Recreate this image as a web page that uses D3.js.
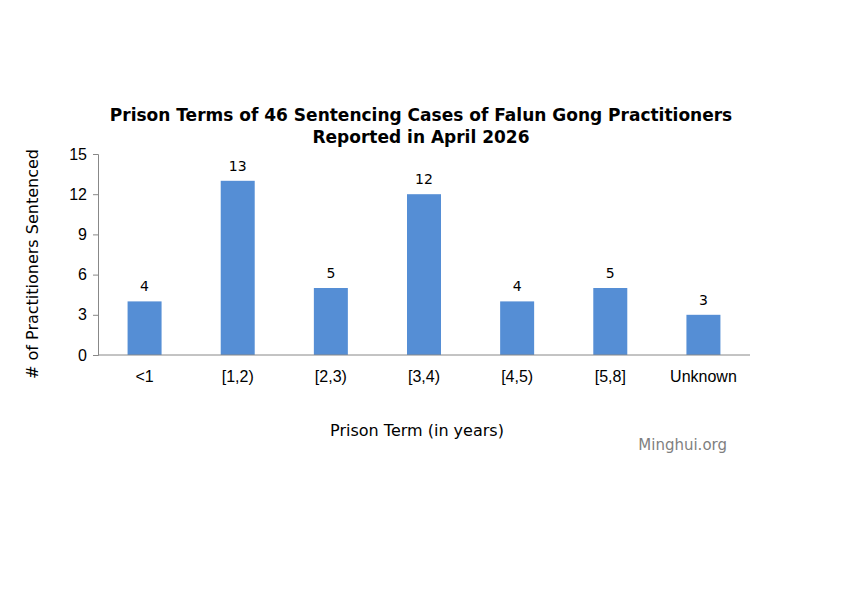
<!DOCTYPE html>
<html><head><meta charset="utf-8">
<script src="https://cdn.jsdelivr.net/npm/d3@7"></script>
<style>body{margin:0;background:#fff}svg{font-family:"DejaVu Sans",Verdana,sans-serif}</style>
</head><body>
<svg width="841" height="601"></svg>
<script>
const categories = ['<1', '[1,2)', '[2,3)', '[3,4)', '[4,5)', '[5,8]', 'Unknown'];
const counts = [4, 13, 5, 12, 4, 5, 3];
const yTicks = [0, 3, 6, 9, 12, 15];

const svg = d3.select('svg');
const x = d3.scaleBand().domain(categories).range([98, 750]).paddingInner(0.635).paddingOuter(0.3175);
const y = d3.scaleLinear().domain([0, 15]).range([355, 154]);

// title
svg.append('text').attr('x', 421).attr('y', 121).attr('text-anchor', 'middle')
  .style('font-weight', 'bold').style('font-size', '17px')
  .text('Prison Terms of 46 Sentencing Cases of Falun Gong Practitioners');
svg.append('text').attr('x', 421).attr('y', 143).attr('text-anchor', 'middle')
  .style('font-weight', 'bold').style('font-size', '17px')
  .text('Reported in April 2026');

// bars
svg.selectAll('rect.bar').data(counts).join('rect')
  .attr('class', 'bar')
  .attr('x', (d, i) => x(categories[i]))
  .attr('y', d => y(d))
  .attr('width', x.bandwidth())
  .attr('height', d => y(0) - y(d))
  .attr('fill', '#558ed5');

svg.selectAll('text.val').data(counts).join('text')
  .attr('class', 'val')
  .attr('x', (d, i) => x(categories[i]) + x.bandwidth() / 2)
  .attr('y', d => y(d) - 10)
  .attr('text-anchor', 'middle').style('font-size', '14px')
  .text(d => d);

// axes
const yAxis = svg.append('g').attr('transform', 'translate(98,0)')
  .call(d3.axisLeft(y).tickValues(yTicks).tickSize(5).tickPadding(6));
yAxis.select('.domain').attr('stroke', '#888');
yAxis.selectAll('.tick line').attr('stroke', '#888');
yAxis.selectAll('.tick text').style('font-size', '16px').attr('fill', '#000');

const xAxis = svg.append('g').attr('transform', 'translate(0,355)')
  .call(d3.axisBottom(x).tickSize(0).tickPadding(16));
xAxis.select('.domain').attr('stroke', '#888').attr('d', 'M98,0H750');
xAxis.selectAll('.tick text').style('font-size', '16px').attr('fill', '#000');

svg.append('text').attr('x', 417).attr('y', 436).attr('text-anchor', 'middle')
  .style('font-size', '16px').text('Prison Term (in years)');
svg.append('text').attr('transform', 'translate(38,264) rotate(-90)').attr('text-anchor', 'middle')
  .style('font-size', '16px').text('# of Practitioners Sentenced');
svg.append('text').attr('x', 727).attr('y', 450).attr('text-anchor', 'end')
  .style('font-size', '15px').attr('fill', '#7f7f7f').text('Minghui.org');
</script>
</body></html>
